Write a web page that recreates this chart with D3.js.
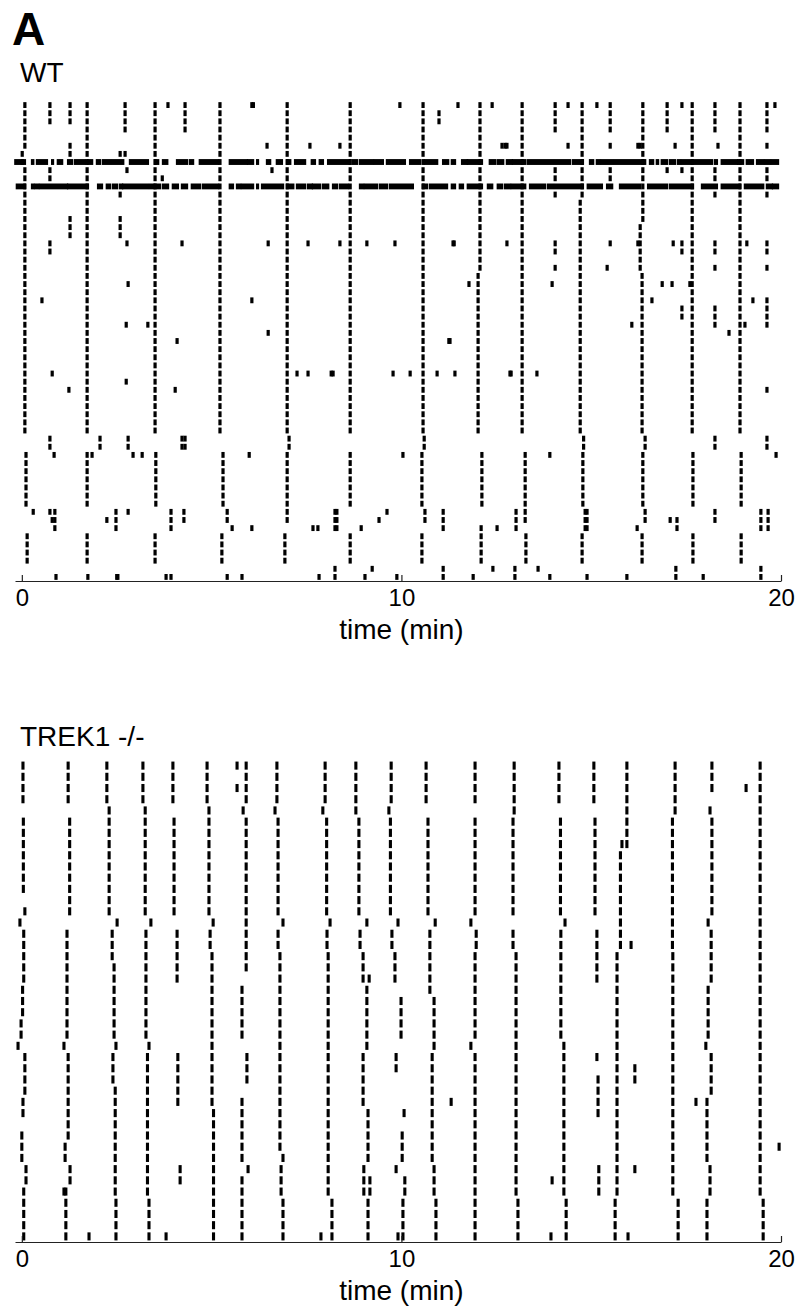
<!DOCTYPE html>
<html>
<head>
<meta charset="utf-8">
<script src="https://cdn.jsdelivr.net/npm/d3@7"></script>
<style>
  body { margin: 0; background: #fff; }
  svg text { font-family: "Liberation Sans", Arial, Helvetica, sans-serif; }
</style>
</head>
<body>
<div id="chart"></div>
<script>
const width = 798,
      height = 1310;

const xTicks = [0, 10, 20];
const xLabel = "time (min)";

// WT: 59 cells. Runs are [time (min), first row, last row]
const wtRows = 59;
const wtColumns = [
  [0.08,0,5],[0.01,6,7],[0.08,8,40],[0.11,43,49],[0.14,53,56],
  [1.72,0,40],[1.72,43,49],[1.72,53,56],
  [3.51,0,40],[3.53,43,49],[3.51,53,56],
  [5.22,0,40],[5.30,43,49],[5.27,53,56],
  [6.99,0,40],[7.04,41,42],[6.99,43,49],[6.93,53,56],
  [8.65,0,40],[8.65,43,49],[8.65,53,56],
  [10.57,0,40],[10.60,41,42],[10.54,43,49],[10.54,53,56],
  [12.07,0,20],[12.02,21,40],[12.12,43,49],[12.10,53,56],
  [13.18,0,40],[13.26,43,49],[13.28,53,56],
  [14.76,0,11],[14.71,12,40],[14.80,41,42],[14.78,43,49],[14.76,53,56],
  [16.36,0,14],[16.29,15,20],[16.34,21,40],[16.42,41,42],[16.36,43,49],[16.34,53,56],
  [17.66,0,40],[17.68,43,49],[17.68,53,56],
  [18.92,0,40],[18.95,43,49],[18.95,53,56]
];
const wtExtra = [
  [0.74,0,2],[1.27,0,2],[2.72,0,3],[4.30,0,3],[14.05,0,3],[15.50,0,3],[17.00,0,3],[18.26,0,3],[19.63,0,3],
  [3.85,0,0],[6.06,0,0],[6.10,0,0],[9.96,0,0],[11.49,0,0],[12.39,0,0],[14.39,0,0],[15.15,0,0],[17.39,0,0],[19.84,0,0],
  [10.99,1,2],
  [1.27,5,6],[2.72,6,6],[2.59,6,6],[6.46,5,5],[7.59,5,5],[8.38,5,5],
  [12.65,5,5],[12.73,5,5],[12.78,5,5],[14.39,5,5],[15.50,5,5],[16.23,5,5],[16.29,5,5],[17.21,5,5],[18.34,5,5],[19.63,5,5],
  [0.74,8,9],[2.77,8,8],[6.59,8,8],[3.70,9,9],[14.05,8,9],[14.05,11,11],[15.50,8,9],[17.00,8,8],[17.39,8,8],
  [18.26,8,9],[18.26,11,11],[19.63,8,9],[19.63,11,11],[2.59,11,11],
  [1.27,14,16],[2.59,14,16],
  [0.74,17,18],[2.77,17,17],[4.22,17,17],[6.49,17,17],[7.54,17,17],[8.38,17,17],[9.09,17,17],[9.83,17,17],
  [11.36,17,17],[11.39,17,17],[12.78,17,17],[14.05,17,18],[15.50,17,17],[16.23,17,17],[17.16,17,17],[17.39,17,18],
  [18.26,17,18],[19.10,17,17],[19.63,17,18],
  [14.05,20,20],[15.42,20,20],[18.26,20,20],[19.63,20,20],
  [2.80,22,22],[11.78,22,22],[13.97,22,22],[16.87,22,22],[17.13,22,22],[17.60,22,22],
  [0.53,24,24],[6.06,24,24],[16.60,24,24],[19.26,24,24],[19.63,24,24],
  [17.39,25,26],[18.26,25,27],[19.63,25,27],[16.07,27,27],[19.05,27,27],[18.63,28,28],[11.25,29,29],[11.28,29,29],
  [2.75,27,27],[3.32,27,27],[4.09,29,29],[6.49,28,28],
  [0.80,33,33],[7.25,33,33],[7.54,33,33],[8.15,33,33],[8.20,33,33],[9.78,33,33],[10.23,33,33],[10.94,33,33],
  [11.41,33,33],[12.86,33,33],[12.89,33,33],[13.57,33,33],
  [2.75,34,34],[1.24,35,35],[4.04,35,35],[19.63,35,35],
  [0.74,41,42],[0.85,43,43],[2.06,41,42],[2.80,41,42],[2.93,43,43],[3.17,43,43],[4.22,41,42],[4.30,41,42],
  [1.85,43,43],[5.99,43,43],[10.04,43,43],[13.91,43,43],[18.26,41,42],[19.63,41,42],[19.87,43,43],
  [0.30,50,50],[0.74,50,50],[0.80,51,51],[0.87,50,52],[2.24,51,51],[2.48,50,52],[2.80,50,50],[3.93,50,52],
  [4.27,50,51],[5.41,50,51],[5.54,52,52],[6.06,52,52],[6.99,50,51],[7.67,52,52],[7.80,52,52],[8.25,50,52],
  [8.30,50,52],[8.94,52,52],[9.41,51,51],[9.62,50,50],
  [10.62,50,51],[11.10,50,52],[12.10,52,52],[12.52,52,52],[13.02,50,52],[13.26,50,51],[14.84,50,52],[14.89,50,52],
  [16.21,52,52],[16.42,50,51],[17.08,51,51],[17.26,51,52],[18.26,50,51],[19.47,50,52],[19.66,50,52],
  [0.90,58,58],[1.74,58,58],[2.50,58,58],[2.53,58,58],[3.80,58,58],[3.93,58,58],[5.41,58,58],[5.80,58,58],
  [7.83,58,58],[8.25,57,58],[9.04,58,58],[9.23,57,57],[9.88,58,58],
  [11.10,57,58],[11.89,58,58],[12.41,57,57],[12.99,57,58],[13.60,57,57],[13.91,58,58],[14.89,58,58],
  [15.94,58,58],[17.23,57,58],[17.95,58,58],[19.47,57,58]
];
// tonically firing WT cells: [row, start (min), end (min)]
const wtTonic = [
  [7,-0.17,0.08],[7,0.27,0.30],[7,0.40,0.66],[7,0.80,0.82],[7,0.95,1.06],[7,1.22,1.32],[7,1.40,1.66],[7,1.74,1.85],
  [7,1.98,2.06],[7,2.14,2.32],[7,2.38,2.67],[7,2.85,3.32],[7,3.51,3.59],[7,3.72,3.83],[7,4.09,4.35],[7,4.43,4.51],
  [7,4.69,5.17],[7,5.48,5.93],[7,5.96,6.09],[7,6.20,6.22],[7,6.46,6.54],[7,6.72,6.85],[7,6.99,7.07],[7,7.20,7.46],
  [7,7.64,7.72],[7,7.85,7.93],[7,8.07,8.65],[7,8.72,8.83],[7,8.91,9.25],[7,9.30,9.51],[7,9.62,10.09],[7,10.23,10.49],
  [7,10.62,10.94],[7,11.10,11.23],[7,11.33,11.41],[7,11.60,11.73],[7,11.75,12.12],[7,12.33,12.47],[7,12.54,12.68],
  [7,12.78,12.91],[7,12.94,13.26],[7,13.33,13.99],[7,14.05,14.44],[7,14.52,14.78],[7,14.97,15.05],[7,15.15,15.23],
  [7,15.28,15.57],[7,15.63,16.42],[7,16.55,16.63],[7,16.73,16.76],[7,16.86,17.00],[7,17.08,17.21],[7,17.29,17.34],
  [7,17.39,18.18],[7,18.26,18.31],[7,18.44,18.84],[7,18.87,19.00],[7,19.10,19.26],[7,19.37,19.53],[7,19.58,19.71],
  [7,19.76,19.92],
  [10,-0.13,0.08],[10,0.27,0.30],[10,0.35,0.43],[10,0.48,1.19],[10,1.22,1.74],[10,2.01,2.11],[10,2.24,2.32],
  [10,2.40,2.51],[10,2.59,2.64],[10,2.67,3.32],[10,3.38,3.46],[10,3.51,3.64],[10,3.72,3.85],[10,3.98,4.11],
  [10,4.22,4.35],[10,4.48,4.69],[10,4.77,5.17],[10,5.48,5.56],[10,5.67,5.75],[10,5.80,6.09],[10,6.20,6.22],
  [10,6.33,6.88],[10,6.99,7.15],[10,7.25,7.46],[10,7.54,7.64],[10,7.67,7.85],[10,7.93,8.07],[10,8.20,8.30],
  [10,8.38,8.59],[10,8.91,8.99],[10,9.04,9.36],[10,9.44,9.62],[10,9.70,10.30],[10,10.57,10.67],[10,10.75,11.20],
  [10,11.33,11.41],[10,11.54,11.62],[10,11.75,12.12],[10,12.28,12.39],[10,12.54,12.65],[10,12.73,12.86],
  [10,12.91,13.26],[10,13.39,13.78],[10,13.86,13.99],[10,14.05,14.78],[10,14.91,15.28],[10,15.42,15.55],
  [10,15.76,16.29],[10,16.50,17.00],[10,17.08,17.68],[10,17.92,18.31],[10,18.44,18.92],[10,19.05,19.53],
  [10,19.63,19.76],[10,19.79,19.92]
];

// TREK1 -/-: 43 cells
const trekRows = 43;
const trekColumns = [
  [0.03,0,3],[0.04,5,11],[0.08,13,13],[-0.05,14,14],[0.05,15,19],[0.02,20,22],[-0.02,23,24],[-0.10,25,25],
  [0.08,26,29],[0.03,30,31],[0.00,33,35],[0.11,36,37],[0.05,38,42],
  [1.22,0,3],[1.26,5,13],[1.19,15,24],[1.11,25,25],[1.22,26,33],[1.14,34,35],[1.27,36,37],[1.16,38,42],[1.11,38,38],
  [2.24,0,3],[2.30,4,13],[2.51,14,14],[2.38,15,17],[2.43,18,24],[2.48,25,25],[2.40,26,28],[2.46,29,38],[2.48,39,42],
  [3.19,0,3],[3.25,4,13],[3.40,14,14],[3.27,15,24],[3.35,25,25],[3.31,26,38],[3.35,39,42],
  [3.98,0,3],[4.01,5,13],[4.09,15,19],[4.11,26,30],[4.17,36,37],
  [4.88,0,3],[4.93,4,13],[5.04,14,14],[4.96,15,16],[5.01,17,30],[5.05,31,42],
  [5.91,0,3],[5.67,0,0],[5.67,2,2],[5.83,4,4],[5.91,5,18],[5.80,20,24],[5.93,26,28],[5.80,30,35],[5.96,36,36],[5.80,37,42],
  [6.72,0,3],[6.67,4,4],[6.75,5,13],[6.88,14,14],[6.75,15,16],[6.80,17,34],[6.88,35,35],[6.83,36,38],[6.88,39,42],
  [7.99,0,3],[7.93,4,4],[8.03,5,13],[8.12,14,14],[8.04,15,16],[8.07,17,38],[8.17,39,42],
  [8.80,0,4],[8.88,5,13],[9.09,14,14],[8.91,15,16],[8.99,17,19],[9.15,19,19],[9.09,20,25],[8.99,26,30],
  [9.12,31,35],[9.01,36,38],[9.17,37,38],[9.12,39,42],
  [9.73,0,3],[9.67,4,4],[9.71,5,13],[9.91,14,14],[9.75,15,16],[9.83,17,19],[9.99,21,24],[9.86,26,27],
  [10.07,31,31],[10.02,33,35],[9.86,36,36],[10.09,37,38],[10.04,39,42],
  [10.65,0,3],[10.70,5,13],[10.89,14,14],[10.75,15,20],[10.86,21,25],[10.81,26,35],[10.86,36,38],[10.91,39,42],
  [11.94,0,3],[11.94,5,13],[11.83,14,14],[11.97,15,16],[11.94,17,24],[11.83,25,25],[11.94,26,42],
  [12.97,0,4],[12.94,5,13],[12.94,15,16],[13.02,17,38],[13.07,39,42],
  [14.15,0,3],[14.19,5,13],[14.31,14,14],[14.20,15,24],[14.28,25,38],[14.34,39,42],
  [15.07,0,3],[15.10,5,13],[15.15,15,19],[15.15,26,26],[15.18,28,31],[15.20,36,38],
  [15.94,0,6],[15.81,7,7],[15.94,7,7],[15.77,8,16],[15.68,17,38],[15.63,39,42],
  [17.21,0,4],[17.14,5,16],[17.15,17,38],[17.29,39,42],
  [18.18,0,2],[18.13,4,4],[18.18,5,13],[18.08,14,14],[18.16,15,19],[18.08,20,24],[18.02,25,25],[18.16,26,29],
  [18.05,30,35],[18.13,36,38],[18.05,39,42],
  [19.45,0,38],[19.53,39,42]
];
const trekExtra = [
  [19.08,2,2],[16.05,16,16],[11.31,30,30],[13.97,37,37],[16.15,27,28],[16.15,36,36],[17.76,30,30],[19.95,34,34],
  [1.77,42,42],[3.80,42,42],[7.88,42,42],[9.91,42,42],[13.94,42,42],[15.97,42,42]
];
const trekTonic = [];

const x = d3.scaleLinear()
    .domain([-0.18, 20])
    .range([15, 781]);

const svg = d3.select("#chart")
  .append("svg")
    .attr("width", width)
    .attr("height", height)
    .style("background", "#fff");

svg.append("text")
    .attr("x", 12)
    .attr("y", 45)
    .attr("font-size", 46)
    .attr("font-weight", "bold")
    .text("A");

const panels = [
  { title: "WT", titleY: 82, top: 101, axisY: 581, rows: wtRows,
    runs: wtColumns.concat(wtExtra), tonic: wtTonic, dashW: 3.2, dashFrac: 0.72 },
  { title: "TREK1 -/-", titleY: 746, top: 760, axisY: 1242, rows: trekRows,
    runs: trekColumns.concat(trekExtra), tonic: trekTonic, dashW: 3.1, dashFrac: 0.72 }
];

panels.forEach(p => {
  const g = svg.append("g");

  const y = d3.scaleBand()
      .domain(d3.range(p.rows))
      .range([p.top, p.axisY]);

  const dashH = y.bandwidth() * p.dashFrac;

  g.append("text")
      .attr("x", 20)
      .attr("y", p.titleY)
      .attr("font-size", 28)
      .text(p.title);

  // one dash per cell per run
  const spikes = p.runs.flatMap(([t, r0, r1]) =>
      d3.range(r0, r1 + 1).map(r => ({ t: t, row: r })));

  g.append("g")
    .selectAll("rect")
    .data(spikes)
    .enter()
    .append("rect")
      .attr("x", d => x(d.t) - p.dashW / 2)
      .attr("y", d => y(d.row) + (y.bandwidth() - dashH) / 2)
      .attr("width", p.dashW)
      .attr("height", dashH)
      .attr("fill", "#000");

  g.append("g")
    .selectAll("rect")
    .data(p.tonic)
    .enter()
    .append("rect")
      .attr("x", d => x(d[1]) - 1.2)
      .attr("y", d => y(d[0]) + (y.bandwidth() - dashH) / 2)
      .attr("width", d => Math.max(x(d[2]) - x(d[1]) + 2.4, 2.6))
      .attr("height", dashH)
      .attr("fill", "#000");

  const axis = g.append("g")
      .attr("transform", `translate(0,${p.axisY})`)
      .call(d3.axisBottom(x)
          .tickValues(xTicks)
          .tickFormat(d3.format("d"))
          .tickSizeInner(-6)
          .tickSizeOuter(0)
          .tickPadding(8));

  axis.select(".domain").attr("stroke", "#222").attr("stroke-width", 1.2);
  axis.selectAll(".tick line").attr("stroke", "#222").attr("stroke-width", 1.2);
  axis.selectAll(".tick text")
      .attr("font-size", 24)
      .attr("font-family", "'Liberation Sans', Arial, sans-serif")
      .attr("fill", "#000");

  g.append("text")
      .attr("x", x(10))
      .attr("y", p.axisY + 58)
      .attr("text-anchor", "middle")
      .attr("font-size", 28)
      .text(xLabel);
});
</script>
</body>
</html>
